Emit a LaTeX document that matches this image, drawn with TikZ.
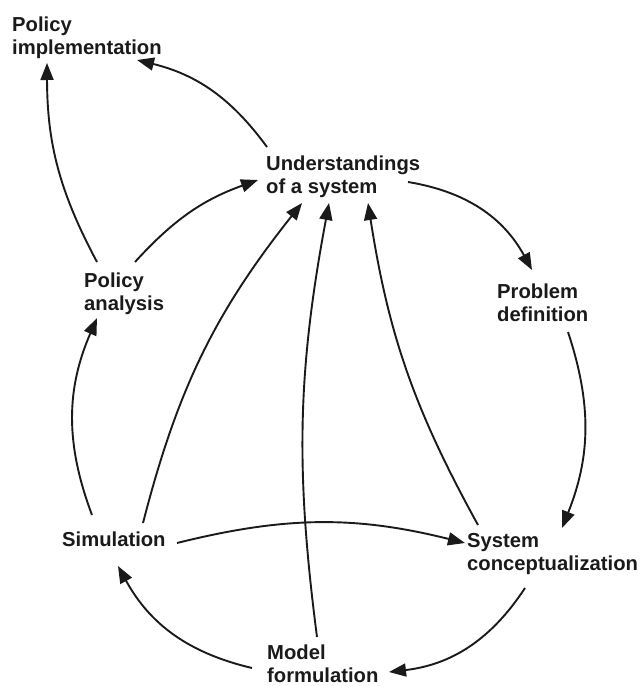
\documentclass[tikz,border=0pt]{standalone}
\usepackage{fontspec}
\setmainfont{Liberation Sans}
\usetikzlibrary{arrows.meta,calc}
\definecolor{ink}{HTML}{1A1A1A}
\tikzset{
  lbl/.style={font=\bfseries\fontsize{20.3}{23}\selectfont, text=ink, align=left, inner sep=0pt, anchor=north west},
  conn/.style={draw=ink, line width=1.9bp, -{Triangle[length=17bp,width=13bp]}}
}
\begin{document}
\begin{tikzpicture}[x=1bp,y=-1bp]
\useasboundingbox (0,0) rectangle (643,686);
\node[lbl] (pimp) at (12,17) {Policy\\implementation};
\node[lbl] (und) at (266,156) {Understandings\\of a system};
\node[lbl] (pana) at (84,273) {Policy\\analysis};
\node[lbl] (prob) at (497,284) {Problem\\definition};
\node[lbl] (sim) at (62,532) {Simulation};
\node[lbl] (sys) at (467,533) {System\\conceptualization};
\node[lbl] (model) at (267,645) {Model\\formulation};

% Understandings -> Policy implementation
\draw[conn] ($(und.north west)+(1,-9)$) to[bend right=20] ($(pimp.north west)+(125,43)$);
% Policy analysis -> Policy implementation
\draw[conn] ($(pana.north west)+(13,-11)$) to[bend left=14] ($(pimp.north west)+(35,46)$);
% Policy analysis -> Understandings
\draw[conn] ($(pana.north west)+(51,-11)$) to[bend left=14] ($(und.north west)+(-8,24)$);
% Understandings -> Problem definition
\draw[conn] ($(und.north west)+(142,26)$) to[bend left=26] ($(prob.north west)+(35,-14)$);
% Problem definition -> System conceptualization
\draw[conn] ($(prob.north west)+(71,48)$) to[bend left=20] ($(sys.north west)+(95,-5)$);
% System conceptualization -> Understandings
\draw[conn] ($(sys.north west)+(11,-8)$) to[bend left=10] ($(und.north west)+(102,47)$);
% System conceptualization -> Model formulation
\draw[conn] ($(sys.north west)+(58,55)$) to[bend left=25] ($(model.north west)+(122,27)$);
% Model formulation -> Simulation
\draw[conn] ($(model.north west)+(-15,23)$) to[bend left=24] ($(sim.north west)+(56,34)$);
% Simulation -> Policy analysis
\draw[conn] ($(sim.north west)+(30,-17)$) to[bend left=22] ($(pana.north west)+(13,45)$);
% Simulation -> Understandings
\draw[conn] ($(sim.north west)+(81,-9)$) to[bend left=12] ($(und.north west)+(36,47)$);
% Simulation -> System conceptualization
\draw[conn] ($(sim.north west)+(115,11)$) to[bend left=14] ($(sys.north west)+(-2,10)$);
% Model formulation -> Understandings
\draw[conn] ($(model.north west)+(50,-8)$) to[bend left=9] ($(und.north west)+(63,47)$);
\end{tikzpicture}
\end{document}
